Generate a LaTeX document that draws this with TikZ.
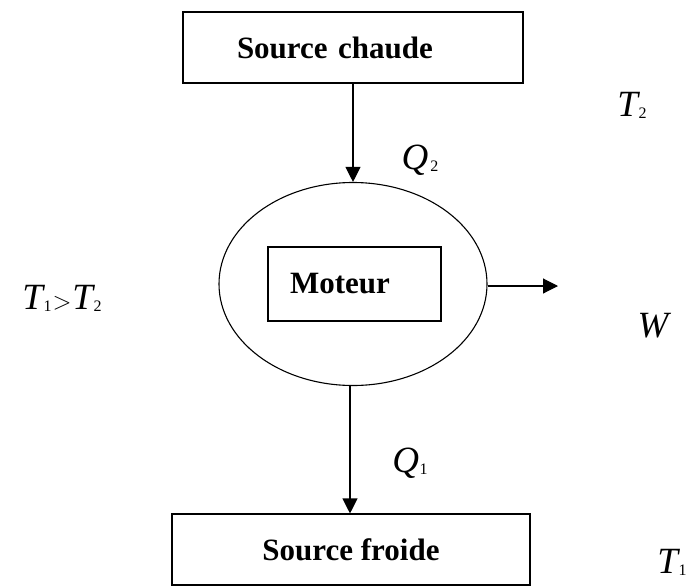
\documentclass[tikz,border=0pt]{standalone}
\usepackage{fontspec}
\setmainfont{Liberation Serif}
\usetikzlibrary{shapes.geometric,arrows.meta}
\newcommand\subx[1]{{\fontsize{16}{16}\selectfont\raisebox{-2pt}{#1}}}
\newcommand\symT[1]{{\itshape T}\kern0.5pt\subx{#1}}
\begin{document}
\begin{tikzpicture}[x=1pt,y=-1pt,
  lw/.style={line width=1.1pt},
  boxnode/.style={draw,lw,minimum height=71pt,font=\fontsize{31}{33}\selectfont\bfseries},
  conn/.style={lw,-{Triangle[length=15pt,width=15pt]}},
  mathlbl/.style={font=\fontsize{37}{39}\selectfont,inner sep=0pt}]
\useasboundingbox (0,0) rectangle (694,587);
\node[boxnode,text width=232pt,inner xsep=54pt,align=left] (top) at (353,47.5) {Source chaude};
\node[ellipse,draw,lw,minimum width=268pt,minimum height=203pt,inner sep=0pt] (eng) at (353,284) {};
\node[boxnode,text width=129pt,inner xsep=22pt,align=left,minimum height=74pt] (mot) at (354.5,284) {Moteur};
\node[boxnode,minimum width=358pt] (bot) at (351,549.5) {Source froide};
\coordinate (wend) at (558,286);
\draw[conn] (top.south -| eng.north) -- (eng.north);
\draw[conn] (eng.south) ++(-3,0) coordinate (es) -- (es |- bot.north);
\draw[conn] (eng.east |- wend) -- (wend);
\node[mathlbl] (q2) at (420,160) {{\itshape Q}\kern2pt\subx{2}};
\node[mathlbl] (q1) at (410,463) {{\itshape Q}\kern0.5pt\subx{1}};
\node[mathlbl] (t2) at (632,105) {\symT{2}};
\node[mathlbl] (t1) at (672,562) {\symT{1}};
\node[mathlbl] (w) at (653,326) {{\itshape W}};
\node[mathlbl] (cmp) at (62,298) {\symT{1}\kern1pt$>$\kern1pt\symT{2}};
\end{tikzpicture}
\end{document}
